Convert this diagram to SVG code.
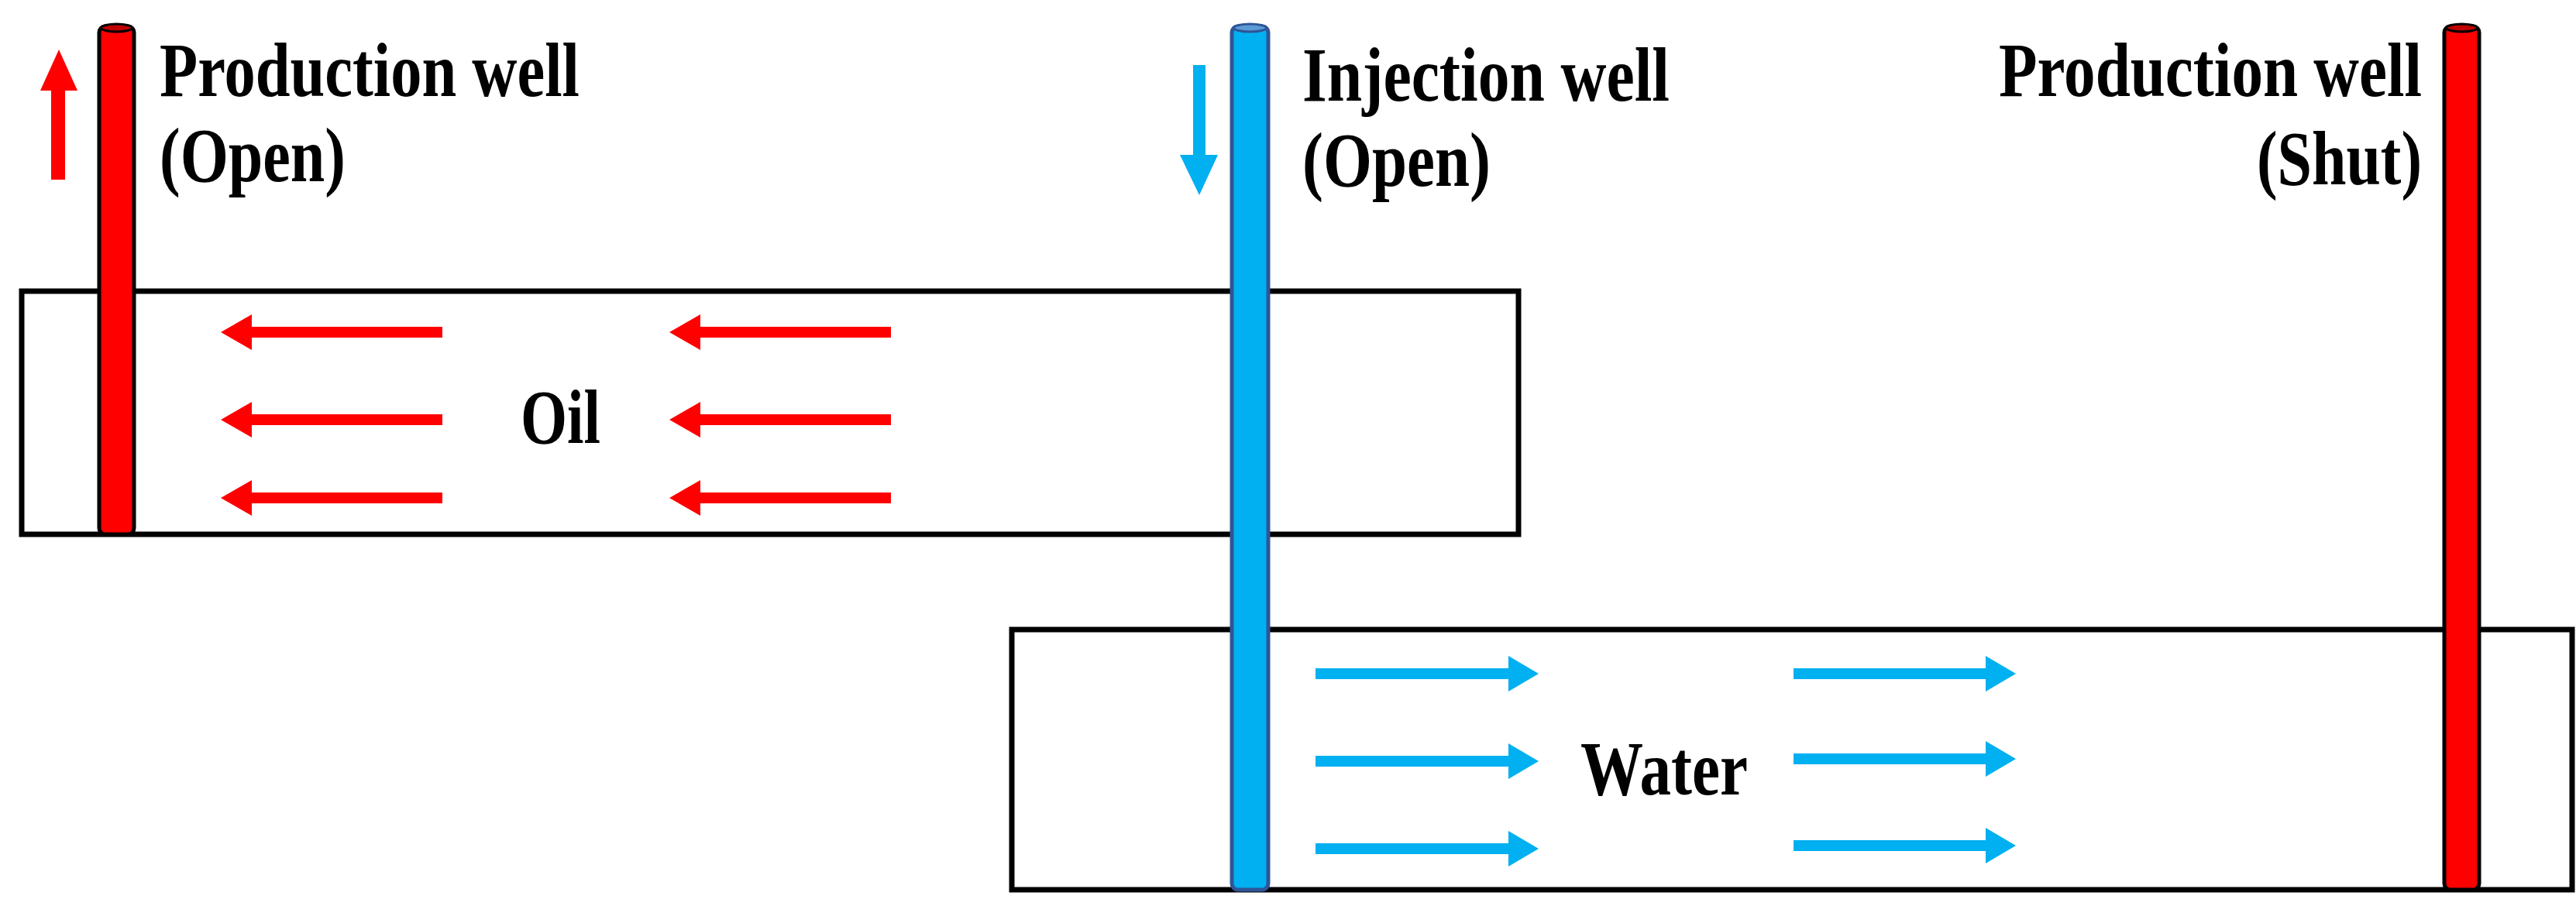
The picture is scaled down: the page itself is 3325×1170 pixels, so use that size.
<svg xmlns="http://www.w3.org/2000/svg" width="3325" height="1170" viewBox="0 0 3325 1170">
<style>
.t{font-family:"Liberation Serif","Times New Roman",serif;font-weight:bold;font-size:100px;fill:#000}
.box{fill:none;stroke:#000;stroke-width:7}
.rw{fill:#FF0000;stroke:#000;stroke-width:5}
.bw{fill:#00B0F0;stroke:#2F5597;stroke-width:5}
.ra{fill:#FF0000}
.ba{fill:#00B0F0}
</style>
<g id="oil-layer"><rect class="box" x="28" y="376" width="1932" height="314"/><text class="t" x="672" y="572" textLength="103" lengthAdjust="spacingAndGlyphs">Oil</text></g>
<g id="water-layer"><rect class="box" x="1306" y="813" width="2014" height="336"/><text class="t" x="2040" y="1026" textLength="216" lengthAdjust="spacingAndGlyphs">Water</text></g>
<g id="production-well-open">
<rect class="rw" x="128" y="34" width="45" height="656" rx="8"/><ellipse cx="150.5" cy="36" rx="20" ry="5" fill="#C00000" stroke="#000" stroke-width="3"/>
<text class="t" x="206" y="124" textLength="542" lengthAdjust="spacingAndGlyphs">Production well</text>
<text class="t" x="206" y="234" textLength="240" lengthAdjust="spacingAndGlyphs">(Open)</text>
</g>
<g id="injection-well">
<rect class="bw" x="1590" y="34" width="47" height="1115" rx="8"/><ellipse cx="1613.5" cy="36" rx="21" ry="5" fill="#5B9BD5" stroke="#2F5597" stroke-width="3"/>
<text class="t" x="1681" y="130" textLength="474" lengthAdjust="spacingAndGlyphs">Injection well</text>
<text class="t" x="1681" y="240" textLength="243" lengthAdjust="spacingAndGlyphs">(Open)</text>
</g>
<g id="production-well-shut">
<rect class="rw" x="3155" y="34" width="45" height="1115" rx="8"/><ellipse cx="3177.5" cy="36" rx="20" ry="5" fill="#C00000" stroke="#000" stroke-width="3"/>
<text class="t" x="3126" y="124" text-anchor="end" textLength="546" lengthAdjust="spacingAndGlyphs">Production well</text>
<text class="t" x="3126" y="238" text-anchor="end" textLength="213" lengthAdjust="spacingAndGlyphs">(Shut)</text>
</g>
<g id="connectors">
<path class="ra" d="M66 232V117H52L76 64L100 117H84V232Z"/>
<path class="ba" d="M1540 84V200H1523L1548 252L1572 200H1556V84Z"/>
<path class="ra" d="M285 429L325 406V422H571V436H325V452Z"/>
<path class="ra" d="M864 429L904 406V422H1150V436H904V452Z"/>
<path class="ra" d="M285 542L325 519V535H571V549H325V565Z"/>
<path class="ra" d="M864 542L904 519V535H1150V549H904V565Z"/>
<path class="ra" d="M285 643L325 620V636H571V650H325V666Z"/>
<path class="ra" d="M864 643L904 620V636H1150V650H904V666Z"/>
<path class="ba" d="M1986 870L1947 847V863H1698V877H1947V893Z"/>
<path class="ba" d="M2602 870L2563 847V863H2315V877H2563V893Z"/>
<path class="ba" d="M1986 983L1947 960V976H1698V990H1947V1006Z"/>
<path class="ba" d="M2602 980L2563 957V973H2315V987H2563V1003Z"/>
<path class="ba" d="M1986 1096L1947 1073V1089H1698V1103H1947V1119Z"/>
<path class="ba" d="M2602 1092L2563 1069V1085H2315V1099H2563V1115Z"/>
</g>
</svg>
